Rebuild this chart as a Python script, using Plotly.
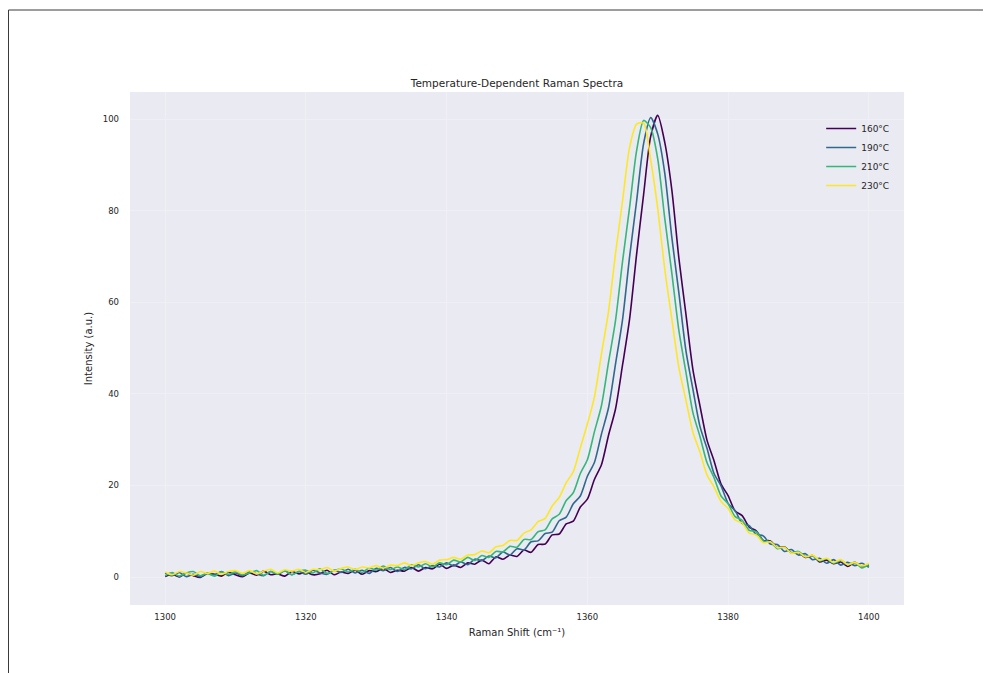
import plotly.graph_objects as go

# Raman shift axis (cm^-1), sampled every 1 cm^-1
raman_shift = list(range(1300, 1401))

temperatures = ["160°C", "190°C", "210°C", "230°C"]

intensity_160 = [
    0.1, 0.6, 0.0, 0.9, 0.3, -0.1, 0.8, 0.6, 0.2, 1.1,
    0.5, 0.1, 0.9, 0.4, 1.3, 0.5, 0.7, 0.2, 1.2, 0.7,
    1.1, 0.5, 0.7, 1.5, 0.5, 1.1, 0.8, 1.5, 0.6, 1.4,
    1.2, 1.9, 1.0, 1.5, 1.3, 2.1, 1.3, 2.1, 1.8, 2.8,
    1.9, 2.6, 2.1, 3.1, 2.8, 3.7, 2.9, 4.4, 3.9, 4.8,
    4.5, 5.9, 5.4, 7.1, 7.2, 9.2, 9.4, 11.6, 12.2, 15.3,
    17.0, 21.3, 24.5, 30.9, 36.7, 46.3, 56.3, 70.5, 83.6, 96.2,
    100.8, 94.9, 84.6, 69.7, 57.5, 45.3, 37.4, 29.9, 25.4, 20.3,
    17.8, 14.4, 13.4, 10.9, 10.1, 8.0, 7.9, 6.4, 6.6, 5.3,
    5.4, 4.3, 4.7, 3.3, 3.7, 2.9, 3.3, 2.3, 3.2, 2.3, 2.6,
]

intensity_190 = [
    0.9, 0.3, 1.0, 0.1, 0.6, 0.1, 0.9, 0.5, 1.2, 0.3,
    0.9, 0.3, 1.2, 0.7, 0.3, 1.2, 0.6, 1.4, 0.5, 1.2,
    0.6, 1.5, 0.9, 0.6, 1.5, 1.0, 1.7, 0.9, 1.5, 0.8,
    1.9, 1.4, 2.1, 1.2, 2.1, 1.8, 2.7, 1.8, 2.5, 2.2,
    3.1, 2.4, 3.3, 2.7, 3.9, 3.6, 4.6, 4.2, 5.5, 4.8,
    6.2, 5.9, 7.7, 7.9, 9.5, 9.8, 12.3, 13.1, 16.0, 17.7,
    22.0, 25.0, 31.2, 36.9, 46.5, 56.2, 69.9, 82.1, 94.7, 100.3,
    96.7, 88.2, 74.2, 62.1, 49.5, 41.0, 32.9, 28.1, 22.6, 19.9,
    16.1, 14.5, 11.7, 11.2, 9.3, 9.0, 7.2, 7.1, 5.6, 6.0,
    4.8, 5.1, 3.8, 4.1, 3.0, 3.8, 2.6, 3.2, 2.5, 3.0, 2.1,
]

intensity_210 = [
    0.3, 1.0, 0.2, 0.9, 1.2, 0.3, 0.8, 0.2, 1.1, 0.6,
    1.2, 0.5, 0.9, 1.4, 0.4, 1.2, 0.7, 1.4, 0.5, 1.2,
    1.5, 0.9, 1.8, 0.8, 1.4, 1.8, 1.1, 1.7, 1.0, 2.0,
    1.5, 2.4, 1.6, 2.2, 1.6, 2.7, 2.2, 2.9, 2.2, 3.1,
    2.7, 3.7, 3.3, 4.3, 3.6, 4.7, 4.3, 5.6, 5.5, 6.7,
    6.5, 8.2, 8.2, 9.9, 10.3, 12.7, 13.7, 16.7, 18.4, 22.6,
    25.6, 31.7, 37.4, 46.8, 56.0, 68.9, 80.7, 93.1, 99.7, 98.1,
    91.3, 78.3, 66.4, 53.9, 44.8, 35.9, 30.7, 25.0, 21.7, 17.7,
    16.0, 13.2, 12.4, 10.2, 9.9, 7.9, 7.7, 6.2, 6.5, 5.3,
    5.6, 4.5, 4.7, 3.5, 4.0, 3.0, 3.7, 2.7, 3.2, 2.0, 2.7,
]

intensity_230 = [
    1.1, 0.5, 1.2, 0.9, 0.4, 1.2, 0.8, 1.3, 0.6, 1.2,
    1.4, 0.8, 1.4, 0.7, 1.3, 1.7, 0.9, 1.6, 1.3, 1.7,
    1.0, 1.7, 1.6, 2.1, 1.3, 1.9, 2.2, 1.6, 2.2, 2.0,
    2.5, 1.9, 2.6, 2.5, 3.1, 2.5, 3.1, 3.4, 2.8, 3.7,
    3.8, 4.3, 3.9, 4.8, 4.9, 5.7, 5.3, 6.6, 6.9, 8.0,
    8.0, 9.6, 10.3, 12.1, 12.8, 15.5, 17.4, 20.6, 23.0, 28.2,
    33.4, 39.3, 48.7, 57.9, 70.6, 82.1, 93.8, 98.9, 99.1, 91.1,
    80.5, 67.2, 56.4, 45.8, 38.7, 31.6, 27.3, 22.3, 19.7, 16.5,
    15.0, 12.5, 11.8, 9.6, 9.2, 7.5, 7.7, 6.4, 6.5, 5.2,
    5.4, 4.4, 4.8, 3.7, 4.1, 3.2, 3.8, 2.7, 3.2, 2.4, 3.0,
]

series = [intensity_160, intensity_190, intensity_210, intensity_230]
colors = ["#440154", "#31688e", "#35b779", "#fde725"]

FONT = "DejaVu Sans"
TXT = "#262626"

fig = go.Figure()
for name, ys, col in zip(temperatures, series, colors):
    fig.add_trace(go.Scatter(
        x=raman_shift, y=ys, mode="lines", name=name,
        line=dict(color=col, width=1.6, shape="spline", smoothing=0.7),
    ))

# figure sits 8px in from the page corner (body margin)
W, H = 983, 665
L, R, T, B = 122, 87, 84, 68
pw = W - L - R
ph = H - T - B

def px2paper_x(px):
    return (px - L) / pw

def px2paper_y(py):
    return (H - B - py) / ph

fig.update_layout(
    width=W, height=H,
    margin=dict(l=L, r=R, t=T, b=B),
    paper_bgcolor="white",
    plot_bgcolor="#EAEAF2",
    font=dict(family=FONT, size=9, color=TXT),
    title=dict(
        text="Temperature-Dependent Raman Spectra",
        x=0.5, xref="paper", xanchor="center",
        y=1 - 75 / H, yref="container", yanchor="middle",
        font=dict(family=FONT, size=10.5, color=TXT),
    ),
    showlegend=True,
    legend=dict(
        x=0.893, y=0.957, xanchor="left", yanchor="top",
        bgcolor="rgba(0,0,0,0)", borderwidth=0,
        font=dict(family=FONT, size=9, color=TXT),
        itemwidth=30, tracegroupgap=0,
    ),
    shapes=[
        dict(type="line", xref="paper", yref="paper",
             x0=px2paper_x(0.5), x1=px2paper_x(W),
             y0=px2paper_y(2.0), y1=px2paper_y(2.0),
             line=dict(color="#3a3a3a", width=1)),
        dict(type="line", xref="paper", yref="paper",
             x0=px2paper_x(0.5), x1=px2paper_x(0.5),
             y0=px2paper_y(2.0), y1=px2paper_y(H),
             line=dict(color="#3a3a3a", width=1)),
    ],
)

fig.update_xaxes(
    range=[1295, 1405],
    tickvals=[1300, 1320, 1340, 1360, 1380, 1400],
    showgrid=True, gridcolor="#EFEFF5", gridwidth=1,
    zeroline=False, showline=False, ticks="",
    ticklabelstandoff=5,
    tickfont=dict(family=FONT, size=8.5, color=TXT),
    title=dict(text="Raman Shift (cm⁻¹)", standoff=8,
               font=dict(family=FONT, size=10, color=TXT)),
)
fig.update_yaxes(
    range=[-6.1, 105.9],
    tickvals=[0, 20, 40, 60, 80, 100],
    showgrid=True, gridcolor="#EFEFF5", gridwidth=1,
    zeroline=False, showline=False, ticks="",
    ticklabelstandoff=10,
    tickfont=dict(family=FONT, size=8.5, color=TXT),
    title=dict(text="Intensity (a.u.)", standoff=8,
               font=dict(family=FONT, size=10, color=TXT)),
)

fig.write_html("out.html")
